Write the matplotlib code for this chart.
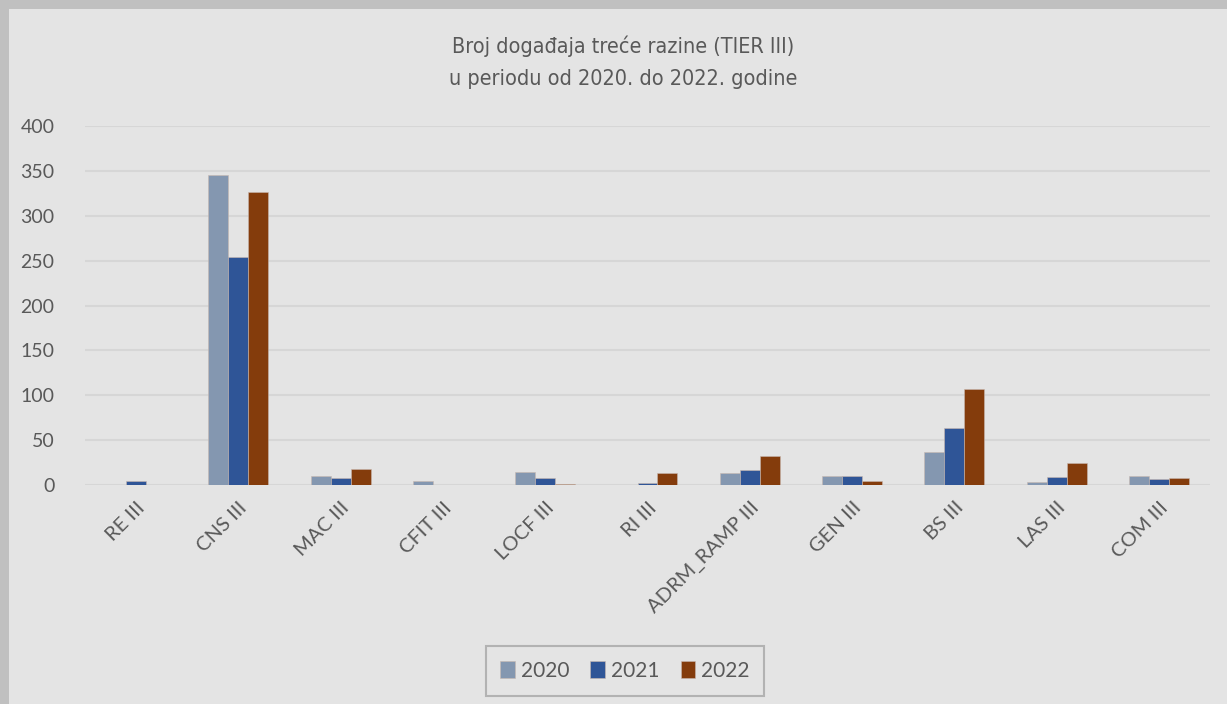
import matplotlib.pyplot as plt
import numpy as np
from matplotlib.patches import Rectangle

categories = ['RE III', 'CNS III', 'MAC III', 'CFIT III', 'LOCF III', 'RI III',
              'ADRM_RAMP III', 'GEN III', 'BS III', 'LAS III', 'COM III']
y2020 = [0, 345, 10, 5, 14, 0.5, 13, 10, 37, 3, 10]
y2021 = [5, 254, 8, 0, 8, 2, 17, 10, 64, 9, 7]
y2022 = [0, 326, 18, 0, 1, 13, 32, 5, 107, 24, 8]
years = ['2020', '2021', '2022']
colors = ['#8497b0', '#2f5597', '#843c0c']

bg = '#e4e4e4'
txt = '#595959'
plt.rcParams['font.family'] = ['Lato', 'DejaVu Sans']

fig = plt.figure(figsize=(12.27, 7.04), dpi=100, facecolor=bg)
# outer gray frame (top and left strips)
fig.patches.append(Rectangle((0, 1 - 9 / 704), 1, 9 / 704, transform=fig.transFigure,
                             facecolor='#c0c0c0', edgecolor='none', zorder=0))
fig.patches.append(Rectangle((0, 0), 9 / 1227, 1, transform=fig.transFigure,
                             facecolor='#c0c0c0', edgecolor='none', zorder=0))

ax = fig.add_axes([85 / 1227, 1 - 485 / 704, (1210 - 85) / 1227, (485 - 126) / 704])
ax.set_facecolor(bg)

x = np.arange(len(categories))
w = 0.195
for i, (vals, yr, c) in enumerate(zip([y2020, y2021, y2022], years, colors)):
    ax.bar(x + (i - 1) * w, vals, w, color=c, label=yr, zorder=3,
           edgecolor='#c8b8b0', linewidth=0.4)

ax.set_xlim(-0.5, len(categories) - 0.5)
ax.set_ylim(0, 400)
ax.set_yticks(np.arange(0, 401, 50))
ax.yaxis.grid(True, color='#d6d6d6', linewidth=1.5, zorder=0)
ax.set_axisbelow(True)
for s in ax.spines.values():
    s.set_visible(False)
ax.tick_params(axis='both', length=0, colors=txt, labelsize=14)
ax.tick_params(axis='y', pad=22)
ax.set_xticks(x)
ax.set_xticklabels(categories, rotation=45, ha='right', rotation_mode='anchor')
ax.tick_params(axis='x', pad=10, labelsize=14.5)

title_font = dict(ha='center', va='center', color=txt, fontsize=15.5,
                  family='DejaVu Sans', stretch='condensed')
fig.text(623 / 1227, 1 - 46 / 704, 'Broj događaja treće razine (TIER III)', **title_font)
fig.text(623 / 1227, 1 - 79 / 704, 'u periodu od 2020. do 2022. godine', **title_font)

leg = ax.legend(loc='center', bbox_to_anchor=(625 / 1227, 1 - 671 / 704),
                bbox_transform=fig.transFigure, ncol=3, frameon=True, fancybox=False,
                fontsize=15, handlelength=0.7, handleheight=0.9, handletextpad=0.3,
                columnspacing=1.0, borderpad=0.7)
leg.get_frame().set_edgecolor('#a6a6a6')
leg.get_frame().set_facecolor(bg)
leg.get_frame().set_linewidth(1.5)
for t in leg.get_texts():
    t.set_color(txt)

plt.savefig('out.png', dpi=100, facecolor=bg)
